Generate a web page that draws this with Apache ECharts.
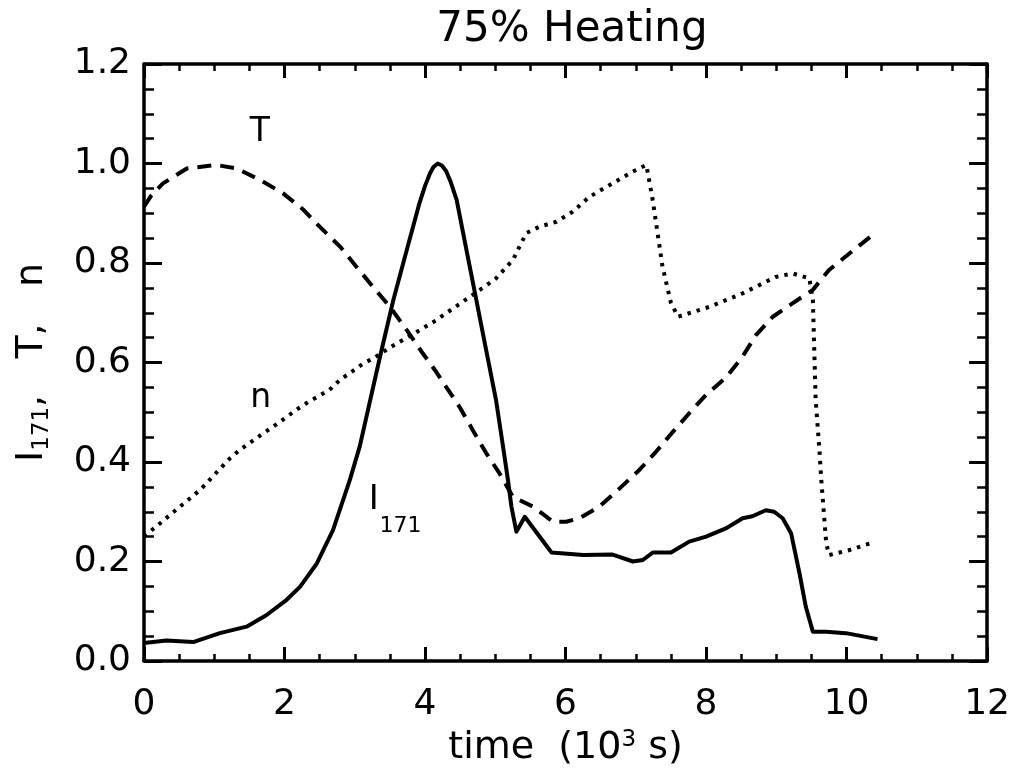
<!DOCTYPE html>
<html>
<head>
<meta charset="utf-8">
<script src="https://cdn.jsdelivr.net/npm/echarts@6/dist/echarts.min.js"></script>
<style>
  html, body { margin: 0; padding: 0; background: #fff; }
  #chart { width: 1013px; height: 776px; }
</style>
</head>
<body>
<div id="chart"></div>
<script>
// I_171 (solid)
var iTime = [0.00, 0.32, 0.70, 1.08, 1.46, 1.74, 2.03, 2.22, 2.46, 2.69, 2.93, 3.07, 3.36, 3.55, 3.74, 3.92, 4.00, 4.07, 4.12, 4.18, 4.24, 4.30, 4.36, 4.45, 4.59, 4.73, 4.87, 5.01, 5.11, 5.18, 5.23, 5.30, 5.42, 5.80, 6.25, 6.67, 6.96, 7.10, 7.24, 7.50, 7.76, 8.00, 8.29, 8.52, 8.66, 8.85, 8.97, 9.09, 9.21, 9.33, 9.42, 9.52, 9.71, 9.99, 10.44];
var iVals = [0.036, 0.041, 0.038, 0.056, 0.069, 0.092, 0.123, 0.149, 0.196, 0.263, 0.364, 0.431, 0.612, 0.726, 0.826, 0.920, 0.955, 0.980, 0.993, 1.000, 0.996, 0.985, 0.965, 0.927, 0.826, 0.726, 0.625, 0.525, 0.431, 0.364, 0.310, 0.260, 0.290, 0.218, 0.213, 0.214, 0.200, 0.203, 0.218, 0.218, 0.240, 0.250, 0.267, 0.287, 0.291, 0.303, 0.300, 0.287, 0.257, 0.176, 0.109, 0.059, 0.059, 0.056, 0.044];

// T (dashed)
var tTime = [0.00, 0.10, 0.27, 0.61, 1.03, 1.32, 1.65, 1.98, 2.27, 2.50, 2.79, 3.02, 3.26, 3.50, 3.74, 3.97, 4.14, 4.30, 4.49, 4.68, 4.87, 5.06, 5.25, 5.54, 5.82, 6.01, 6.20, 6.48, 6.77, 7.05, 7.29, 7.53, 7.76, 8.00, 8.29, 8.52, 8.71, 8.95, 9.23, 9.52, 9.75, 10.04, 10.42];
var tVals = [0.913, 0.935, 0.960, 0.990, 0.997, 0.990, 0.967, 0.940, 0.907, 0.873, 0.833, 0.793, 0.752, 0.712, 0.665, 0.618, 0.585, 0.551, 0.511, 0.464, 0.418, 0.377, 0.330, 0.310, 0.280, 0.280, 0.287, 0.310, 0.347, 0.384, 0.421, 0.461, 0.498, 0.535, 0.571, 0.612, 0.655, 0.692, 0.719, 0.746, 0.786, 0.819, 0.862];

// n (dotted)
var nTime = [0.00, 0.23, 0.51, 0.80, 1.22, 1.37, 1.70, 1.84, 2.17, 2.31, 2.64, 2.79, 3.12, 3.26, 3.50, 3.83, 4.16, 4.30, 4.68, 5.01, 5.25, 5.44, 5.63, 5.87, 6.10, 6.34, 6.67, 6.96, 7.15, 7.24, 7.38, 7.50, 7.60, 8.05, 8.52, 8.99, 9.23, 9.47, 9.52, 9.54, 9.56, 9.61, 9.64, 9.71, 9.75, 10.04, 10.37];
var nVals = [0.250, 0.277, 0.310, 0.344, 0.407, 0.425, 0.458, 0.471, 0.505, 0.518, 0.545, 0.565, 0.598, 0.608, 0.630, 0.657, 0.685, 0.699, 0.736, 0.769, 0.806, 0.860, 0.873, 0.883, 0.903, 0.933, 0.960, 0.984, 0.997, 0.927, 0.793, 0.720, 0.692, 0.712, 0.739, 0.772, 0.779, 0.769, 0.726, 0.625, 0.525, 0.431, 0.364, 0.237, 0.213, 0.223, 0.238];

var xTicks = [0, 12, 2];      // min, max, interval
var yTicks = [0, 1.2, 0.2];

var FONT = 'DejaVu Sans';

function pairs(xs, ys) {
    return xs.map(function (x, i) { return [x, ys[i]]; });
}

var nameRich = {
    a: { fontFamily: FONT, fontSize: 38, color: '#000' },
    sub: { fontFamily: FONT, fontSize: 23, color: '#000', padding: [20, 0, 0, 0] },
    sup: { fontFamily: FONT, fontSize: 23, color: '#000', padding: [0, 0, 16, 0] }
};

function xAxisCfg(pos, labels) {
    return {
        type: 'value', position: pos,
        min: xTicks[0], max: xTicks[1], interval: xTicks[2],
        axisLine: { show: true, onZero: false, lineStyle: { color: '#000', width: 3.5 } },
        axisTick: { show: true, inside: true, length: 14, lineStyle: { color: '#000', width: 3 } },
        minorTick: { show: true, splitNumber: 4, length: 7, lineStyle: { color: '#000', width: 2.5 } },
        splitLine: { show: false },
        axisLabel: { show: labels, color: '#000', fontFamily: FONT, fontSize: 36, margin: 26 },
        name: labels ? '{a|time  (10}{sup|3}{a| s)}' : '',
        nameLocation: 'middle', nameGap: 68,
        nameTextStyle: { color: '#000', fontFamily: FONT, fontSize: 38, rich: nameRich }
    };
}

function yAxisCfg(pos, labels) {
    return {
        type: 'value', position: pos,
        min: yTicks[0], max: yTicks[1], interval: yTicks[2],
        axisLine: { show: true, onZero: false, lineStyle: { color: '#000', width: 3.5 } },
        axisTick: { show: true, inside: true, length: 18, lineStyle: { color: '#000', width: 3 } },
        minorTick: { show: true, splitNumber: 4, length: 10, lineStyle: { color: '#000', width: 2.5 } },
        splitLine: { show: false },
        axisLabel: {
            show: labels, color: '#000', fontFamily: FONT, fontSize: 36, margin: 13,
            formatter: function (v) { return v.toFixed(1); }
        },
        name: labels ? '{a|I}{sub|171}{a|,   T,   n}' : '',
        nameLocation: 'middle', nameGap: 90,
        nameTextStyle: { color: '#000', fontFamily: FONT, fontSize: 38, rich: nameRich }
    };
}

var chart = echarts.init(document.getElementById('chart'));

var option = {
    animation: false,
    backgroundColor: '#fff',
    title: {
        text: '75% Heating',
        left: 567, top: 4, textAlign: 'center',
        textStyle: { color: '#000', fontFamily: FONT, fontSize: 42, fontWeight: 'normal' }
    },
    grid: { left: 144, right: 25, top: 64, bottom: 115 },
    xAxis: [xAxisCfg('bottom', true), xAxisCfg('top', false)],
    yAxis: [yAxisCfg('left', true), yAxisCfg('right', false)],
    series: [
        {
            name: 'I171', type: 'line', data: pairs(iTime, iVals),
            showSymbol: false,
            lineStyle: { color: '#000', width: 4, join: 'round' }
        },
        {
            name: 'T', type: 'line', data: pairs(tTime, tVals),
            showSymbol: false,
            lineStyle: { color: '#000', width: 4, type: [14, 9] }
        },
        {
            name: 'n', type: 'line', data: pairs(nTime, nVals),
            showSymbol: false,
            lineStyle: { color: '#000', width: 4, type: [3.5, 6] }
        }
    ]
};

chart.setOption(option);

// curve labels, placed in data coordinates
var notes = [
    { text: 'T', at: [1.65, 1.063], size: 33 },
    { text: 'n', at: [1.66, 0.527], size: 33 },
    { text: 'I', at: [3.27, 0.324], size: 34 },
    { text: '171', at: [3.65, 0.271], size: 22 }
];
chart.setOption({
    graphic: notes.map(function (d) {
        var p = chart.convertToPixel({ xAxisIndex: 0, yAxisIndex: 0 }, d.at);
        return {
            type: 'text', x: p[0], y: p[1],
            style: {
                text: d.text, fill: '#000', font: d.size + 'px "' + FONT + '"',
                textAlign: 'center', textVerticalAlign: 'middle'
            }
        };
    })
});
</script>
</body>
</html>
